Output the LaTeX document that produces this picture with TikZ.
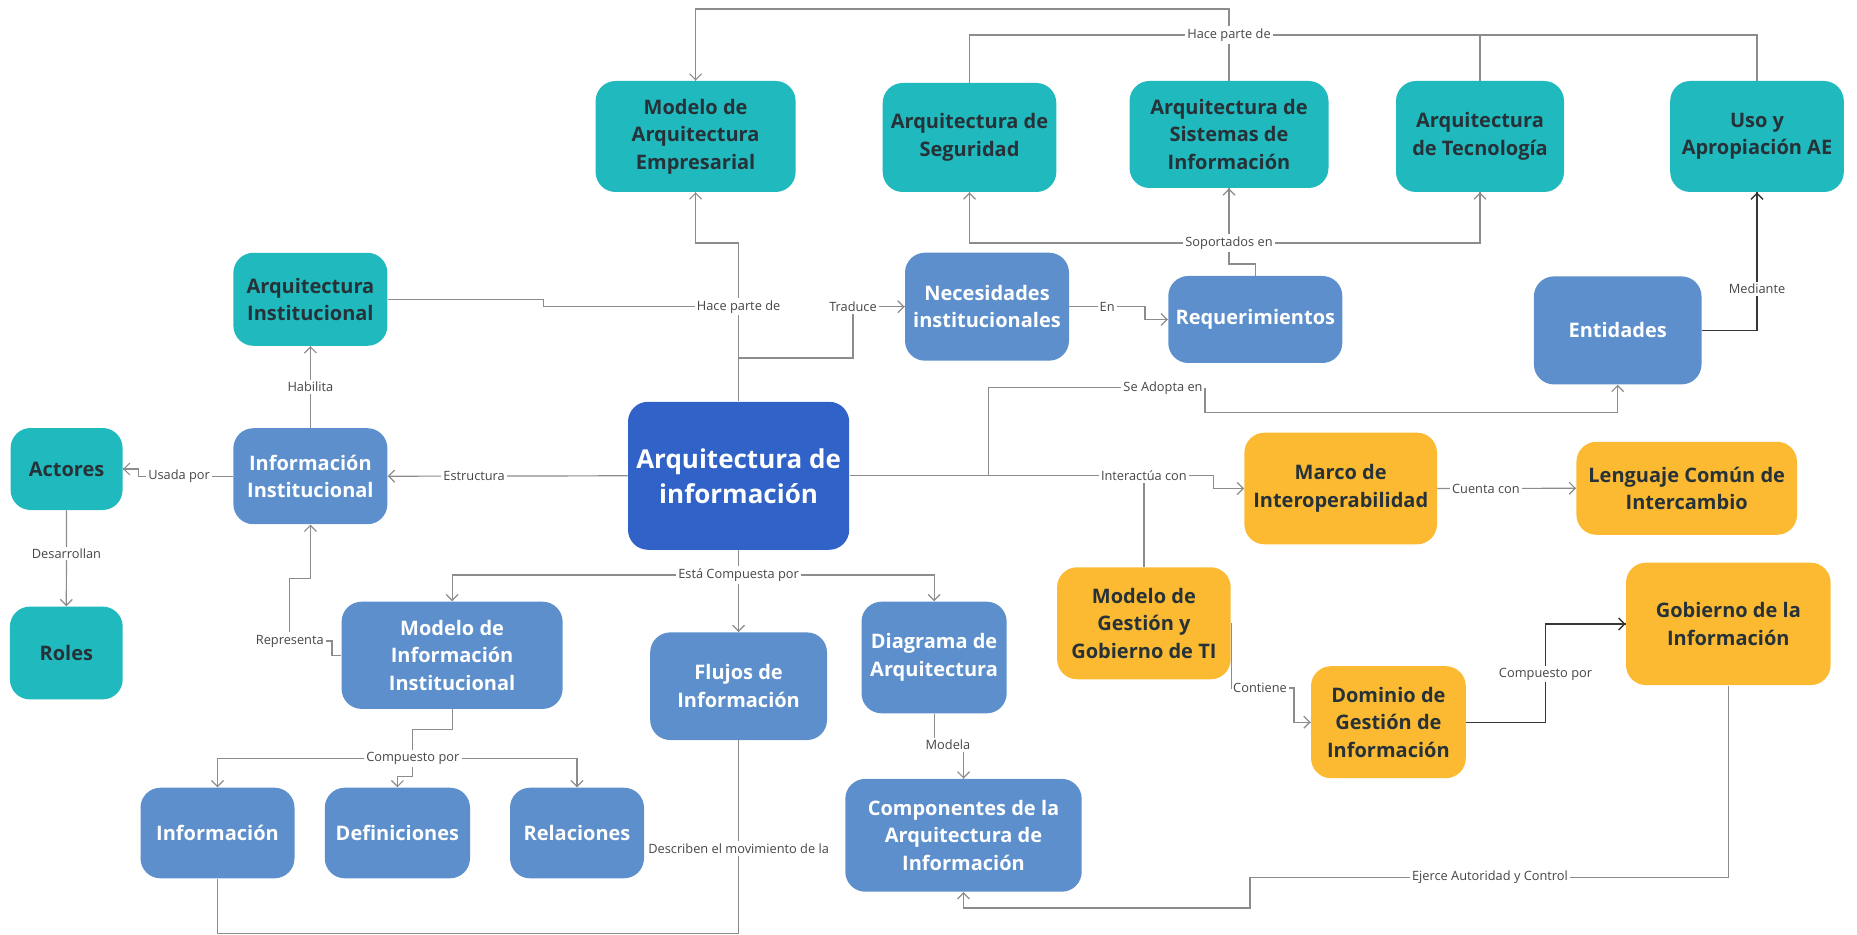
\documentclass[tikz,border=0pt]{standalone}
\usepackage{fontspec}
\setmainfont{Open Sans}
\usetikzlibrary{arrows.meta,
                 decorations.markings}
\definecolor{tealc}{RGB}{32,185,190}
\definecolor{bluec}{RGB}{92,143,203}
\definecolor{navyc}{RGB}{48,98,200}
\definecolor{yellowc}{RGB}{251,186,50}
\definecolor{textc}{RGB}{38,50,56}
\definecolor{linec}{RGB}{140,140,140}
\definecolor{darkc}{RGB}{55,55,55}
\definecolor{lblc}{RGB}{70,70,70}
\tikzset{->/.style = {decoration={markings, mark=at position 1 with {\arrow{Straight Barb[length=3pt,width=6pt]}}}, postaction={decorate}}}
\tikzset{box/.style = {rounded corners=10pt, align=center, inner sep=1pt, font=\bfseries\fontsize{10}{13.75}\selectfont}}
\tikzset{tealbox/.style = {box, fill=tealc, text=textc}}
\tikzset{bluebox/.style = {box, fill=bluec, text=white}}
\tikzset{yelbox/.style = {box, fill=yellowc, text=textc}}
\tikzset{lbl/.style = {fill=white, inner sep=1pt, text=lblc, font=\fontsize{6.4}{7.5}\selectfont}}
\tikzset{conn/.style = {draw=linec, line width=0.6pt}}
\tikzset{dark/.style = {draw=darkc, line width=0.7pt}}

\begin{document}
\begin{tikzpicture}[x=0.5pt, y=-0.5pt]
      \useasboundingbox (0,0) rectangle (1857,935);
      % boxes
      \node[tealbox, minimum width=100pt, minimum height=55.5pt] (MAE) at (695.6,136.5) {Modelo de\\Arquitectura\\Empresarial};
      \node[tealbox, minimum width=86.8pt, minimum height=54.5pt] (ASeg) at (969.5,137.5) {Arquitectura de\\Seguridad};
      \node[tealbox, minimum width=99.5pt, minimum height=53.5pt] (ASI) at (1229,134.5) {Arquitectura de\\Sistemas de\\Información};
      \node[tealbox, minimum width=84pt, minimum height=55.5pt] (ATec) at (1480,136.5) {Arquitectura\\de Tecnología};
      \node[tealbox, minimum width=86.8pt, minimum height=55.5pt] (UyA) at (1757,136.5) {Uso y\\Apropiación AE};
      \node[tealbox, minimum width=77pt, minimum height=46.5pt] (AI) at (310.4,299.3) {Arquitectura\\Institucional};
      \node[bluebox, minimum width=82pt, minimum height=54pt] (Nec) at (987,306.7) {Necesidades\\institucionales};
      \node[bluebox, minimum width=87pt, minimum height=43.5pt] (Req) at (1255.3,319.5) {Requerimientos};
      \node[bluebox, minimum width=83.8pt, minimum height=54pt] (Ent) at (1617.7,330.4) {Entidades};
      \node[tealbox, minimum width=56pt, minimum height=41pt] (Act) at (66.6,469) {Actores};
      \node[bluebox, minimum width=77pt, minimum height=48pt] (II) at (310.4,476.2) {Información\\Institucional};
      \node[box, fill=navyc, text=white, minimum width=110.6pt, minimum height=74pt,
            font=\bfseries\fontsize{13}{17.5}\selectfont] (AdI) at (738.6,475.8) {Arquitectura de\\información};
      \node[yelbox, minimum width=96.3pt, minimum height=55.8pt] (Marco) at (1340.7,488.5) {Marco de\\Interoperabilidad};
      \node[yelbox, minimum width=110.3pt, minimum height=46.5pt] (Leng) at (1686.7,488.3) {Lenguaje Común de\\Intercambio};
      \node[tealbox, minimum width=56.4pt, minimum height=46.4pt] (Roles) at (66.3,653) {Roles};
      \node[bluebox, minimum width=110.5pt, minimum height=53.6pt] (MII) at (452.1,655.3) {Modelo de\\Información\\Institucional};
      \node[bluebox, minimum width=88.4pt, minimum height=53.8pt] (Flu) at (738.6,686.2) {Flujos de\\Información};
      \node[bluebox, minimum width=72.6pt, minimum height=55.8pt] (Diag) at (934.1,657.5) {Diagrama de\\Arquitectura};
      \node[yelbox, minimum width=86.8pt, minimum height=56pt] (MGG) at (1143.9,623.3) {Modelo de\\Gestión y\\Gobierno de TI};
      \node[yelbox, minimum width=102.3pt, minimum height=61.2pt] (GobI) at (1728.3,623.9) {Gobierno de la\\Información};
      \node[yelbox, minimum width=77.4pt, minimum height=56pt] (DGI) at (1388.4,722.2) {Dominio de\\Gestión de\\Información};
      \node[bluebox, minimum width=77pt, minimum height=45.3pt] (Info) at (217.5,833) {Información};
      \node[bluebox, minimum width=72.6pt, minimum height=45.3pt] (Def) at (397.4,833) {Definiciones};
      \node[bluebox, minimum width=67pt, minimum height=45.3pt] (Rel) at (577,833) {Relaciones};
      \node[bluebox, minimum width=118.2pt, minimum height=56.4pt] (Comp) at (963.5,835.3) {Componentes de la\\Arquitectura de\\Información};
      % labels where lines meet
      \node[lbl] (hp1) at (738.6,306.7) {Hace parte de};
      \node[lbl] (hp2) at (1229,35) {Hace parte de};
      \node[lbl] (sop) at (1229,243) {Soportados en};
      \node[lbl] (tr) at (853,306.7) {Traduce};
      \node[lbl] (sa) at (1163,387.7) {Se Adopta en};
      \node[lbl] (int) at (1143.9,475.8) {Interactúa con};
      \node[lbl] (ecp) at (738.6,575) {Está Compuesta por};
      \node[lbl] (cp1) at (412.8,758.3) {Compuesto por};
      \node[lbl] (rep) at (289.8,641) {Representa};
      \node[lbl] (mod) at (948,745) {Modela};
      \node[lbl] (cont) at (1260,688) {Contiene};
      \node[lbl] (eac) at (1490,877.3) {Ejerce Autoridad y Control};
      \node[lbl] (desc) at (738.6,848.3) {Describen el movimiento de la};
      % top
      \draw [conn] (AI.east) -- (543.7,299.3) |- (hp1.west);
      \draw [conn] (AdI.north) -- (hp1.south);
      \draw [conn, ->] (hp1.north) -- (738.6,243) -| (MAE.south);
      \draw [conn] (738.6,358) -| (tr.south);
      \draw [conn, ->] (tr.east) -- (Nec.west);
      \draw [conn, ->] (Nec.east) -- node [lbl, pos=0.5] (en) {En} (1145,306.7) |- (Req.west);
      \draw [conn] (Req.north) -- (1255.3,264) -| (sop.south);
      \draw [conn, ->] (sop.west) -| (ASeg.south);
      \draw [conn, ->] (sop.east) -| (ATec.south);
      \draw [conn, ->] (sop.north) -- (ASI.south);
      \draw [conn] (ASeg.north) |- (hp2.west);
      \draw [conn] (UyA.north) |- (hp2.east);
      \draw [conn] (ATec.north) |- (hp2.east);
      \draw [conn] (ASI.north) -- (hp2.south);
      \draw [conn, ->] (hp2.north) -- (1229,9) -| (MAE.north);
      \draw [dark, ->] (Ent.east) -| node [lbl, pos=0.65] (med) {Mediante} (UyA.south);
      % left
      \draw [conn, ->] (II.north) -- node [lbl] (hab) {Habilita} (AI.south);
      \draw [conn, ->] (II.west) -- node [lbl, pos=0.57] (usa) {Usada por} (138.4,476.2) |- (Act.east);
      \draw [conn, ->] (Act.south) -- node [lbl, pos=0.45] (des) {Desarrollan} (Roles.north);
      \draw [conn, ->] (AdI.west) -- node [lbl, pos=0.64] (est) {Estructura} (II.east);
      \draw [conn] (MII.west) -- (332,655.3) |- (rep.east);
      \draw [conn, ->] (rep.north) -- (289.8,578.3) -| (II.south);
      % bottom
      \draw [conn] (AdI.south) -- (ecp.north);
      \draw [conn, ->] (ecp.west) -| (MII.north);
      \draw [conn, ->] (ecp.east) -| (Diag.north);
      \draw [conn, ->] (ecp.south) -- (Flu.north);
      \draw [conn] (MII.south) -- (452.1,729.3) -| (cp1.north);
      \draw [conn, ->] (cp1.west) -| (Info.north);
      \draw [conn, ->] (cp1.east) -| (Rel.north);
      \draw [conn, ->] (cp1.south) -- (412.8,776.7) -| (Def.north);
      \draw [conn] (Diag.south) -- (Diag.south |- mod.north);
      \draw [conn, ->] (mod.south -| Comp.north) -- (Comp.north);
      \draw [conn] (Flu.south) -- (desc.north);
      \draw [conn] (desc.south) -- (738.6,933.3) -| (Info.south);
      % right
      \draw [conn] (AdI.east) -- (int.west);
      \draw [conn] (988.4,475.8) |- (sa.west);
      \draw [conn, ->] (sa.east) -- ++(0,25) -| (Ent.south);
      \draw [conn, ->] (int.east) -- (1213.8,475.8) |- (Marco.west);
      \draw [conn] (int.south) -- (MGG.north);
      \draw [conn, ->] (Marco.east) -- node [lbl, pos=0.35] (cc) {Cuenta con} (Leng.west);
      \draw [conn] (MGG.east) |- (cont.west);
      \draw [conn, ->] (cont.east) -- (1294,688) |- (DGI.west);
      \draw [dark, ->] (DGI.east) -- (1545.5,722.2) |- node [lbl, pos=0.245] (cpg) {Compuesto por} (GobI.west);
      \draw [conn] (GobI.south) |- (eac.east);
      \draw [conn, ->] (eac.west) -- (1250,877.3) -- (1250,908) -| (Comp.south);
\end{tikzpicture}
\end{document}
